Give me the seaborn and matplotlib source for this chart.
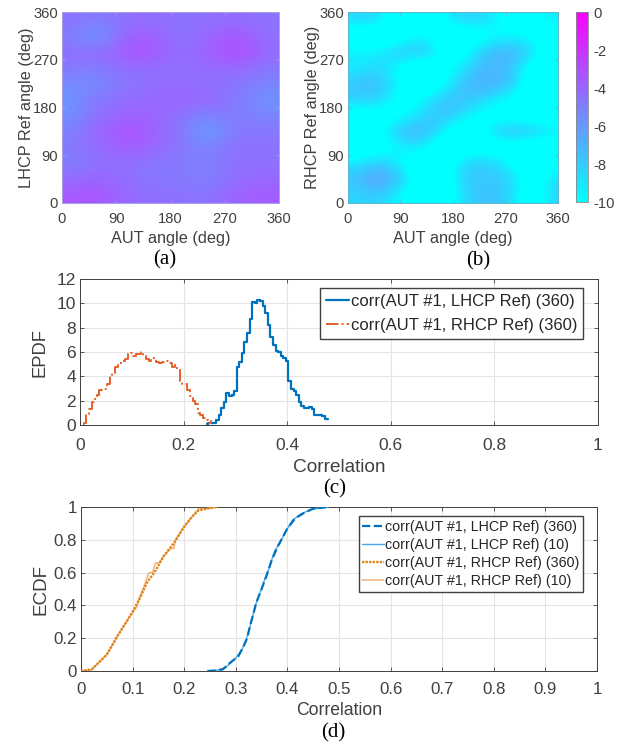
import matplotlib
matplotlib.use("Agg")
import numpy as np
import matplotlib.pyplot as plt
import seaborn as sns

sns.set_theme(style="ticks")
plt.rcParams["font.family"] = ["Liberation Sans", "DejaVu Sans"]

# dB maps, rows y=15..345, columns x=15..345 (30 deg cells)
lhcp_map = [
    [-3.5, -3.3, -3.6, -4.1, -4.3, -4.4, -4.4, -4.6, -4.4, -3.9, -3.7, -3.6],
    [-4.2, -4.0, -4.0, -4.3, -4.6, -4.7, -4.7, -5.0, -4.8, -4.4, -4.1, -4.1],
    [-5.0, -4.7, -4.4, -4.4, -4.6, -4.7, -4.8, -5.0, -4.9, -4.5, -4.4, -4.5],
    [-4.8, -4.3, -4.0, -3.7, -3.8, -4.3, -4.6, -5.0, -4.9, -4.5, -4.4, -4.5],
    [-5.0, -4.3, -3.8, -3.3, -3.4, -4.1, -4.6, -5.9, -6.0, -4.9, -4.6, -4.7],
    [-5.6, -4.7, -4.2, -3.9, -3.9, -4.2, -4.5, -5.0, -5.0, -4.9, -5.0, -5.2],
    [-5.9, -4.9, -4.6, -4.3, -4.2, -4.0, -3.9, -4.0, -4.2, -4.7, -5.3, -5.9],
    [-5.3, -5.6, -5.1, -4.7, -4.5, -4.3, -4.3, -4.4, -4.5, -4.6, -4.9, -5.1],
    [-4.7, -4.9, -4.7, -4.4, -4.3, -4.4, -4.4, -4.3, -4.2, -4.2, -4.4, -4.7],
    [-4.3, -4.3, -4.0, -3.4, -3.2, -3.7, -4.3, -4.1, -3.5, -3.0, -3.3, -4.2],
    [-5.0, -5.9, -5.5, -4.1, -3.7, -4.1, -4.5, -4.3, -3.8, -3.5, -3.9, -4.5],
    [-4.5, -4.7, -4.7, -4.5, -4.3, -4.4, -4.5, -4.5, -4.4, -4.3, -4.4, -4.5],
]
rhcp_map = [
    [-8.5, -8.0, -9.0, -11.0, -12.0, -11.5, -8.7, -7.5, -7.7, -9.0, -12.0, -8.5],
    [-7.4, -6.0, -6.6, -9.0, -12.0, -11.5, -8.2, -7.8, -7.8, -8.5, -12.0, -8.5],
    [-9.0, -8.0, -8.5, -11.0, -12.0, -11.5, -8.2, -8.0, -8.2, -10.5, -12.0, -11.0],
    [-12.0, -11.0, -10.5, -9.0, -9.6, -12.0, -11.5, -11.0, -11.5, -11.5, -12.0, -12.0],
    [-12.0, -11.5, -8.0, -6.9, -7.2, -9.5, -12.0, -10.5, -7.8, -7.0, -7.4, -8.6],
    [-11.0, -11.0, -11.0, -9.6, -8.2, -7.5, -8.5, -10.5, -11.0, -11.0, -11.5, -11.5],
    [-8.2, -8.0, -9.5, -11.0, -8.8, -7.6, -7.6, -8.0, -9.5, -10.5, -12.0, -10.0],
    [-7.5, -7.2, -8.5, -11.5, -12.0, -10.0, -7.5, -6.9, -6.8, -8.0, -12.0, -12.0],
    [-9.5, -8.5, -9.5, -11.5, -12.0, -10.5, -9.0, -7.4, -7.3, -8.0, -11.0, -12.0],
    [-9.0, -9.5, -7.8, -7.5, -7.5, -10.5, -11.0, -8.0, -6.8, -7.0, -8.5, -11.0],
    [-12.0, -12.0, -12.0, -10.0, -9.5, -12.0, -12.0, -11.0, -10.0, -9.5, -10.0, -12.0],
    [-8.5, -8.0, -11.0, -12.0, -12.0, -9.5, -8.2, -8.2, -9.5, -12.0, -11.0, -9.0],
]

pdf_lhcp_x = [.245, .25, .255, .26, .265, .27, .275, .28, .285, .29, .295, .30, .305, .31, .315, .32, .325, .33,
              .335, .34, .345, .35, .355, .36, .365, .37, .375, .38, .385, .39, .395, .40, .405, .41, .415, .42,
              .425, .43, .435, .44, .445, .45, .455, .46, .465, .47, .475, .478]
pdf_lhcp_y = [.05, .15, .2, .2, .4, .8, 1.4, 1.9, 2.6, 2.4, 2.5, 2.8, 4.8, 5.2, 5.9, 6.8, 7.6, 8.7,
              10.1, 10.0, 10.3, 10.2, 9.8, 9.2, 8.2, 7.2, 6.6, 6.1, 6.0, 5.7, 5.5, 5.3, 3.6, 3.0, 2.8, 2.5,
              1.9, 1.6, 1.4, 1.4, 1.5, 1.3, .8, .8, .8, .7, .5, .5]
pdf_rhcp_x = [.005, .01, .015, .02, .025, .03, .035, .04, .045, .05, .055, .06, .065, .07, .075, .08, .085, .09,
              .095, .10, .105, .11, .115, .12, .125, .13, .135, .14, .145, .15, .155, .16, .165, .17, .175, .18,
              .185, .19, .195, .20, .205, .21, .215, .22, .225, .23, .235, .24, .245, .25, .255]
pdf_rhcp_y = [.05, .2, .9, 1.3, 1.9, 2.1, 2.5, 2.9, 2.95, 3.0, 3.4, 4.1, 4.3, 4.8, 4.9, 5.1, 5.3, 5.4,
              5.8, 5.9, 5.7, 5.8, 5.85, 6.0, 5.7, 5.4, 5.3, 5.5, 5.5, 5.2, 5.1, 5.2, 5.3, 5.3, 5.1, 4.8,
              4.9, 4.6, 3.6, 3.4, 3.4, 2.9, 2.4, 2.0, 1.7, 1.0, .85, .6, .4, .15, .3]

cdf_lhcp_x = [.245, .26, .275, .285, .295, .305, .315, .322, .328, .335, .34, .35, .36, .37, .383, .39, .40,
              .415, .43, .45, .476]
cdf_lhcp_y = [0, .003, .01, .04, .065, .09, .15, .2, .28, .36, .42, .5, .585, .68, .77, .81, .87,
              .93, .96, .99, 1]
cdf_lhcp10_x = [.245, .265, .28, .29, .30, .312, .32, .33, .338, .345, .355, .365, .375, .385, .395, .41,
                .425, .445, .47, .48]
cdf_lhcp10_y = [0, .005, .02, .05, .08, .13, .19, .30, .40, .46, .55, .63, .73, .78, .84, .92,
                .955, .985, .995, 1]
cdf_rhcp_x = [0, .021, .034, .05, .07, .086, .10, .115, .128, .144, .16, .18, .20, .215, .228, .244, .263]
cdf_rhcp_y = [0, .01, .05, .10, .21, .29, .36, .45, .54, .61, .70, .78, .88, .94, .98, .99, 1]
cdf_rhcp10_x = [0, .02, .034, .05, .07, .086, .10, .108, .115, .121, .131, .139, .144, .152, .16, .175, .18, .183,
                .20, .215, .228, .244, .263]
cdf_rhcp10_y = [0, .008, .05, .10, .21, .29, .36, .39, .46, .505, .597, .603, .657, .662, .70, .75, .745, .80,
                .88, .94, .99, .99, 1]

angle_ticks = [0, 90, 180, 270, 360]
pdf_labels = ["corr(AUT #1, LHCP Ref) (360)", "corr(AUT #1, RHCP Ref) (360)"]
cdf_labels = ["corr(AUT #1, LHCP Ref) (360)", "corr(AUT #1, LHCP Ref) (10)",
              "corr(AUT #1, RHCP Ref) (360)", "corr(AUT #1, RHCP Ref) (10)"]

W, H = 623, 743
GRAY = "#404040"


def add_ax(fig, x0, y0, x1, y1):
    # pixel box measured from the top left
    return fig.add_axes([x0 / W, 1 - y1 / H, (x1 - x0) / W, (y1 - y0) / H])


def matlab_box(ax, fs, pad_x):
    ax.tick_params(direction="in", length=3, width=0.6, color=GRAY, labelcolor=GRAY, labelsize=fs,
                   top=True, right=True, pad=3)
    ax.tick_params(axis="x", pad=pad_x)
    for s in ax.spines.values():
        s.set_visible(True)
        s.set_color(GRAY)
        s.set_linewidth(0.7)


fig = plt.figure(figsize=(W / 100, H / 100), dpi=100, facecolor="white")
cmap = sns.color_palette("cool", as_cmap=True)

ax_a = add_ax(fig, 62, 12, 279, 203)
ax_b = add_ax(fig, 348, 12, 558, 203)
for ax, grid, ylab, edge in [(ax_a, lhcp_map, "LHCP Ref angle (deg)", "#a9a0ee"),
                             (ax_b, rhcp_map, "RHCP Ref angle (deg)", "#5fb5c8")]:
    im = ax.imshow(np.array(grid), origin="lower", extent=(0, 360, 0, 360), cmap=cmap, vmin=-10, vmax=0,
                   interpolation="bicubic", aspect="auto")
    ax.set_xticks(angle_ticks)
    ax.set_yticks(angle_ticks)
    matlab_box(ax, 10.6, 6.5)
    for s in ax.spines.values():
        s.set_color(edge)
    ax.tick_params(color=edge, length=2)
    ax.set_xlabel("AUT angle (deg)", fontsize=11.7, color=GRAY, labelpad=3.5)
    ax.set_ylabel(ylab, fontsize=11.7, color=GRAY, labelpad=-0.5)

cax = add_ax(fig, 576, 12, 588, 202)
cb = fig.colorbar(im, cax=cax, ticks=[0, -2, -4, -6, -8, -10])
cb.ax.set_yticklabels(["0", "-2", "-4", "-6", "-8", "-10"])
cb.ax.tick_params(labelsize=10.6, labelcolor=GRAY, length=0, pad=4)
cb.outline.set_edgecolor("#888888")
cb.outline.set_linewidth(0.6)

# EPDF
ax_c = add_ax(fig, 80, 279, 598, 425)
sns.lineplot(x=pdf_lhcp_x, y=pdf_lhcp_y, ax=ax_c, color="#0072BD", lw=1.6, drawstyle="steps-mid",
             label=pdf_labels[0], estimator=None, sort=False)
sns.lineplot(x=pdf_rhcp_x, y=pdf_rhcp_y, ax=ax_c, color="#E8602A", lw=1.4, linestyle="-.", drawstyle="steps-mid",
             label=pdf_labels[1], estimator=None, sort=False)
ax_c.set_xlim(0, 1)
ax_c.set_ylim(0, 12)
ax_c.set_yticks(range(0, 13, 2))
ax_c.set_yticklabels([str(v) for v in range(0, 13, 2)])
ax_c.set_xticks([0, .2, .4, .6, .8, 1])
ax_c.set_xticklabels(["0", "0.2", "0.4", "0.6", "0.8", "1"])
ax_c.grid(True, color="#e4e4e4", lw=0.8)
matlab_box(ax_c, 12.5, 9)
ax_c.set_xlabel("Correlation", fontsize=13.7, color=GRAY, labelpad=4.5)
ax_c.set_ylabel("EPDF", fontsize=13.2, color=GRAY, labelpad=6)
ax_c.legend(loc="upper right", bbox_to_anchor=(0.971, 0.938), fontsize=12, frameon=True, fancybox=False,
            edgecolor=GRAY, framealpha=1, borderpad=0.35, labelspacing=0.55, handlelength=1.4, handletextpad=0.1,
            borderaxespad=0)

# ECDF
ax_d = add_ax(fig, 81, 507, 597, 671)
sns.lineplot(x=cdf_lhcp_x, y=cdf_lhcp_y, ax=ax_d, color="#0072BD", lw=1.6, linestyle="--", zorder=4,
             label=cdf_labels[0], estimator=None, sort=False)
sns.lineplot(x=cdf_lhcp10_x, y=cdf_lhcp10_y, ax=ax_d, color="#4BA8E8", lw=1.0, zorder=3,
             label=cdf_labels[1], estimator=None, sort=False)
sns.lineplot(x=cdf_rhcp_x, y=cdf_rhcp_y, ax=ax_d, color="#DE8418", lw=1.7, linestyle=(0, (1, 0.5)), zorder=4,
             label=cdf_labels[2], estimator=None, sort=False)
sns.lineplot(x=cdf_rhcp10_x, y=cdf_rhcp10_y, ax=ax_d, color="#EDB27A", lw=1.1, zorder=3,
             label=cdf_labels[3], estimator=None, sort=False)
ax_d.set_xlim(0, 1)
ax_d.set_ylim(0, 1)
ax_d.set_yticks([0, .2, .4, .6, .8, 1])
ax_d.set_yticklabels(["0", "0.2", "0.4", "0.6", "0.8", "1"])
ax_d.set_xticks(np.arange(0, 1.01, .1))
ax_d.set_xticklabels(["0", "0.1", "0.2", "0.3", "0.4", "0.5", "0.6", "0.7", "0.8", "0.9", "1"])
ax_d.grid(True, color="#e4e4e4", lw=0.8)
matlab_box(ax_d, 12.2, 8)
ax_d.set_xlabel("Correlation", fontsize=12.7, color=GRAY, labelpad=3.5)
ax_d.set_ylabel("ECDF", fontsize=13.6, color=GRAY, labelpad=3)
ax_d.legend(loc="upper right", bbox_to_anchor=(0.973, 0.945), fontsize=10.3, frameon=True, fancybox=False,
            edgecolor=GRAY, framealpha=1, borderpad=0.25, labelspacing=0.3, handlelength=1.5, handletextpad=0.1,
            borderaxespad=0)

# captions
for txt, x, y in [("(a)", 165, 260), ("(b)", 478, 261), ("(c)", 335, 489), ("(d)", 333, 733)]:
    fig.text(x / W, 1 - y / H, txt, fontsize=15, family=["Liberation Serif"], color="black", ha="center", va="center")

fig.savefig("out.png", dpi=100)
